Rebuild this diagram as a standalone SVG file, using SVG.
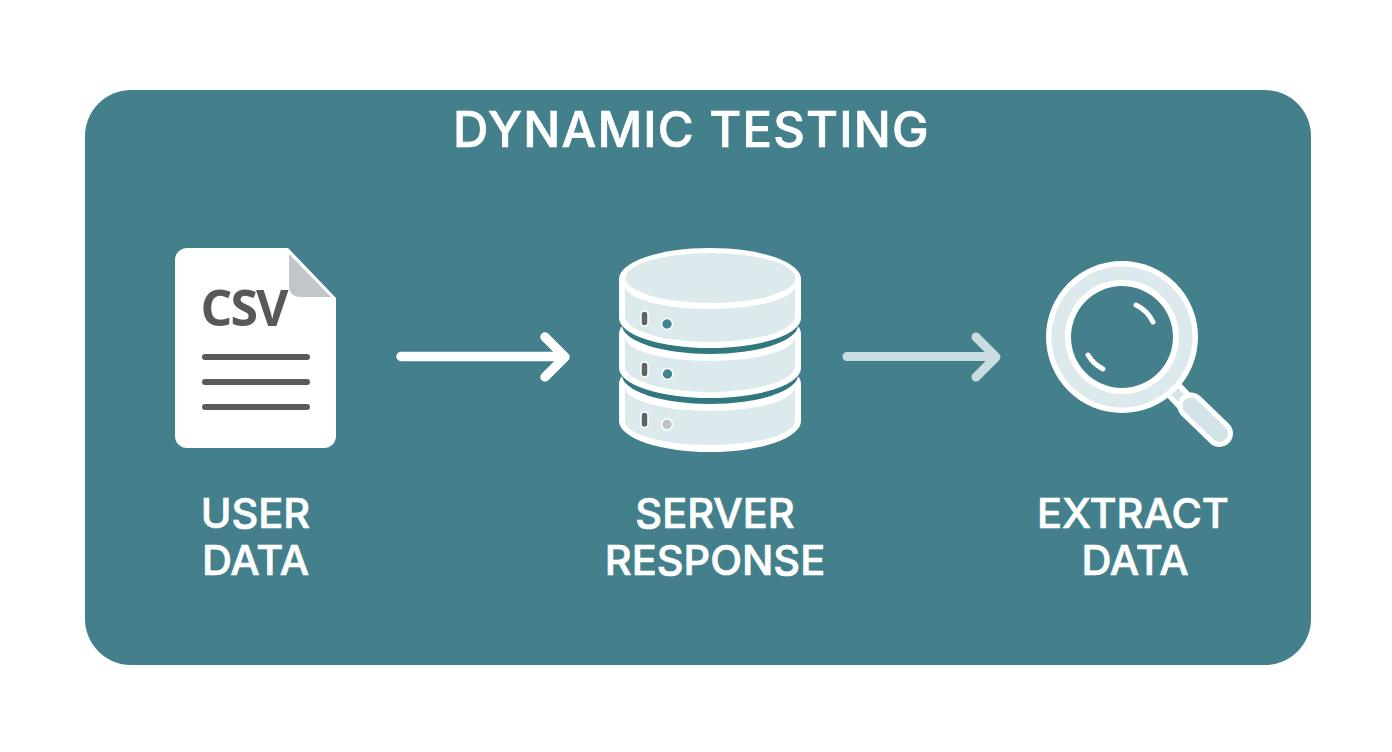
<svg xmlns="http://www.w3.org/2000/svg" width="1392" height="752" viewBox="0 0 1392 752">
<style>
.t{font-family:Inter,"Liberation Sans",sans-serif;font-weight:500;fill:#fff;stroke:#fff;stroke-width:0.700;text-anchor:middle}
.lbl{font-size:41.500px}
.w{fill:#fff}
.l{fill:#dce9ed}
.led{fill:#5b6468;stroke:#fff;stroke-width:1.500}
.dot{stroke:#fff;stroke-width:1.500}
.teal{fill:#3f8490}
.band{fill:#31787f}
.rl{fill:none;stroke:#5a5a5c;stroke-width:6;stroke-linecap:round}
.hl{fill:none;stroke:#fff;stroke-width:5;stroke-linecap:round}
.a{fill:none;stroke-linecap:round;stroke-linejoin:round}
</style>
<rect x="0" y="0" width="1392" height="752" fill="#fff"/>
<rect id="panel" x="85" y="90" width="1226" height="575" rx="46" fill="#43808c"/>
<text id="title" class="t" x="691.500" y="147" font-size="49" letter-spacing="1.200">DYNAMIC TESTING</text>
<g id="user-data">
<path class="w" d="M187,248H288L336,298V436a12,12 0 0 1 -12,12H187a12,12 0 0 1 -12,-12V260a12,12 0 0 1 12,-12Z"/>
<path d="M289,254L331,297H299a10,10 0 0 1 -10,-10Z" fill="#c2c6ca"/>
<text x="243.500" y="326" font-family="'Open Sans','Liberation Sans',sans-serif" font-weight="700" font-size="50" letter-spacing="-2" fill="#58585a" text-anchor="middle">CSV</text>
<path class="rl" d="M205,357H307M205,382H307M205,407H307"/>
<text class="t lbl" x="255.500" y="528">USER</text>
<text class="t lbl" x="255.500" y="575">DATA</text>
</g>
<g id="server-response">
<path class="w" d="M619,385Q619,378 623,376H797Q801,378 801,385V421A91,31 0 0 1 619,421Z"/>
<path class="l" d="M625,387A85,24 0 0 0 795,387V421A85,24 0 0 1 625,421Z"/>
<path class="band" d="M622,375A88,29 0 0 0 798,375L798,360H622Z"/>
<path class="w" d="M619,335Q619,328 623,326H797Q801,328 801,335V368A91,30 0 0 1 619,368Z"/>
<path class="l" d="M625,337A85,24 0 0 0 795,337V366A85,26 0 0 1 625,366Z"/>
<path class="band" d="M622,325A88,29 0 0 0 798,325L798,310H622Z"/>
<path class="w" d="M619,279A91,31 0 0 1 801,279V318A91,30 0 0 1 619,318Z"/>
<path class="l" d="M625,286A85,23 0 0 0 795,286V316A85,26 0 0 1 625,316Z"/>
<ellipse class="l" cx="710.500" cy="278" rx="85" ry="25"/>
<rect class="led" x="641" y="311" width="7" height="15" rx="3.500"/>
<circle class="dot teal" cx="667" cy="324" r="5.500"/>
<rect class="led" x="641" y="362" width="7" height="15" rx="3.500"/>
<circle class="dot teal" cx="667.500" cy="374" r="5.500"/>
<rect class="led" x="641" y="412" width="7" height="15.500" rx="3.500"/>
<circle class="dot" cx="667" cy="424.500" r="5.500" fill="#bcc3c6"/>
<text class="t lbl" x="715" y="528">SERVER</text>
<text class="t lbl" x="715" y="575">RESPONSE</text>
</g>
<g id="extract-data">
<path class="a" d="M1170,386L1186,403" stroke="#fff" stroke-width="20" style="stroke-linecap:butt"/>
<path class="a" d="M1172,389L1184,401" stroke="#d4e3e7" stroke-width="9" style="stroke-linecap:butt"/>
<path class="a" d="M1191,406L1219.500,433.500" stroke="#fff" stroke-width="27"/>
<path class="a" d="M1191,406L1219.500,433.500" stroke="#d4e3e7" stroke-width="17"/>
<circle class="w" cx="1122" cy="337" r="76"/>
<circle class="l" cx="1122" cy="337" r="70.500"/>
<circle class="w" cx="1122" cy="337" r="57"/>
<circle cx="1122" cy="337" r="51" fill="#43808c"/>
<path class="hl" d="M1136,305A36,36 0 0 1 1153,322"/>
<path class="hl" d="M1088,355A36,36 0 0 0 1103,369"/>
<text class="t lbl" x="1133" y="528">EXTRACT</text>
<text class="t lbl" x="1135" y="575">DATA</text>
</g>
<g id="connectors">
<path class="a" d="M401,356.500H564M545,337L565,357L545,377" stroke="#fff" stroke-width="9.500"/>
<path class="a" d="M847,356.500H995M976,337L996,357L976,377" stroke="#c9dde0" stroke-width="9"/>
</g>
</svg>
